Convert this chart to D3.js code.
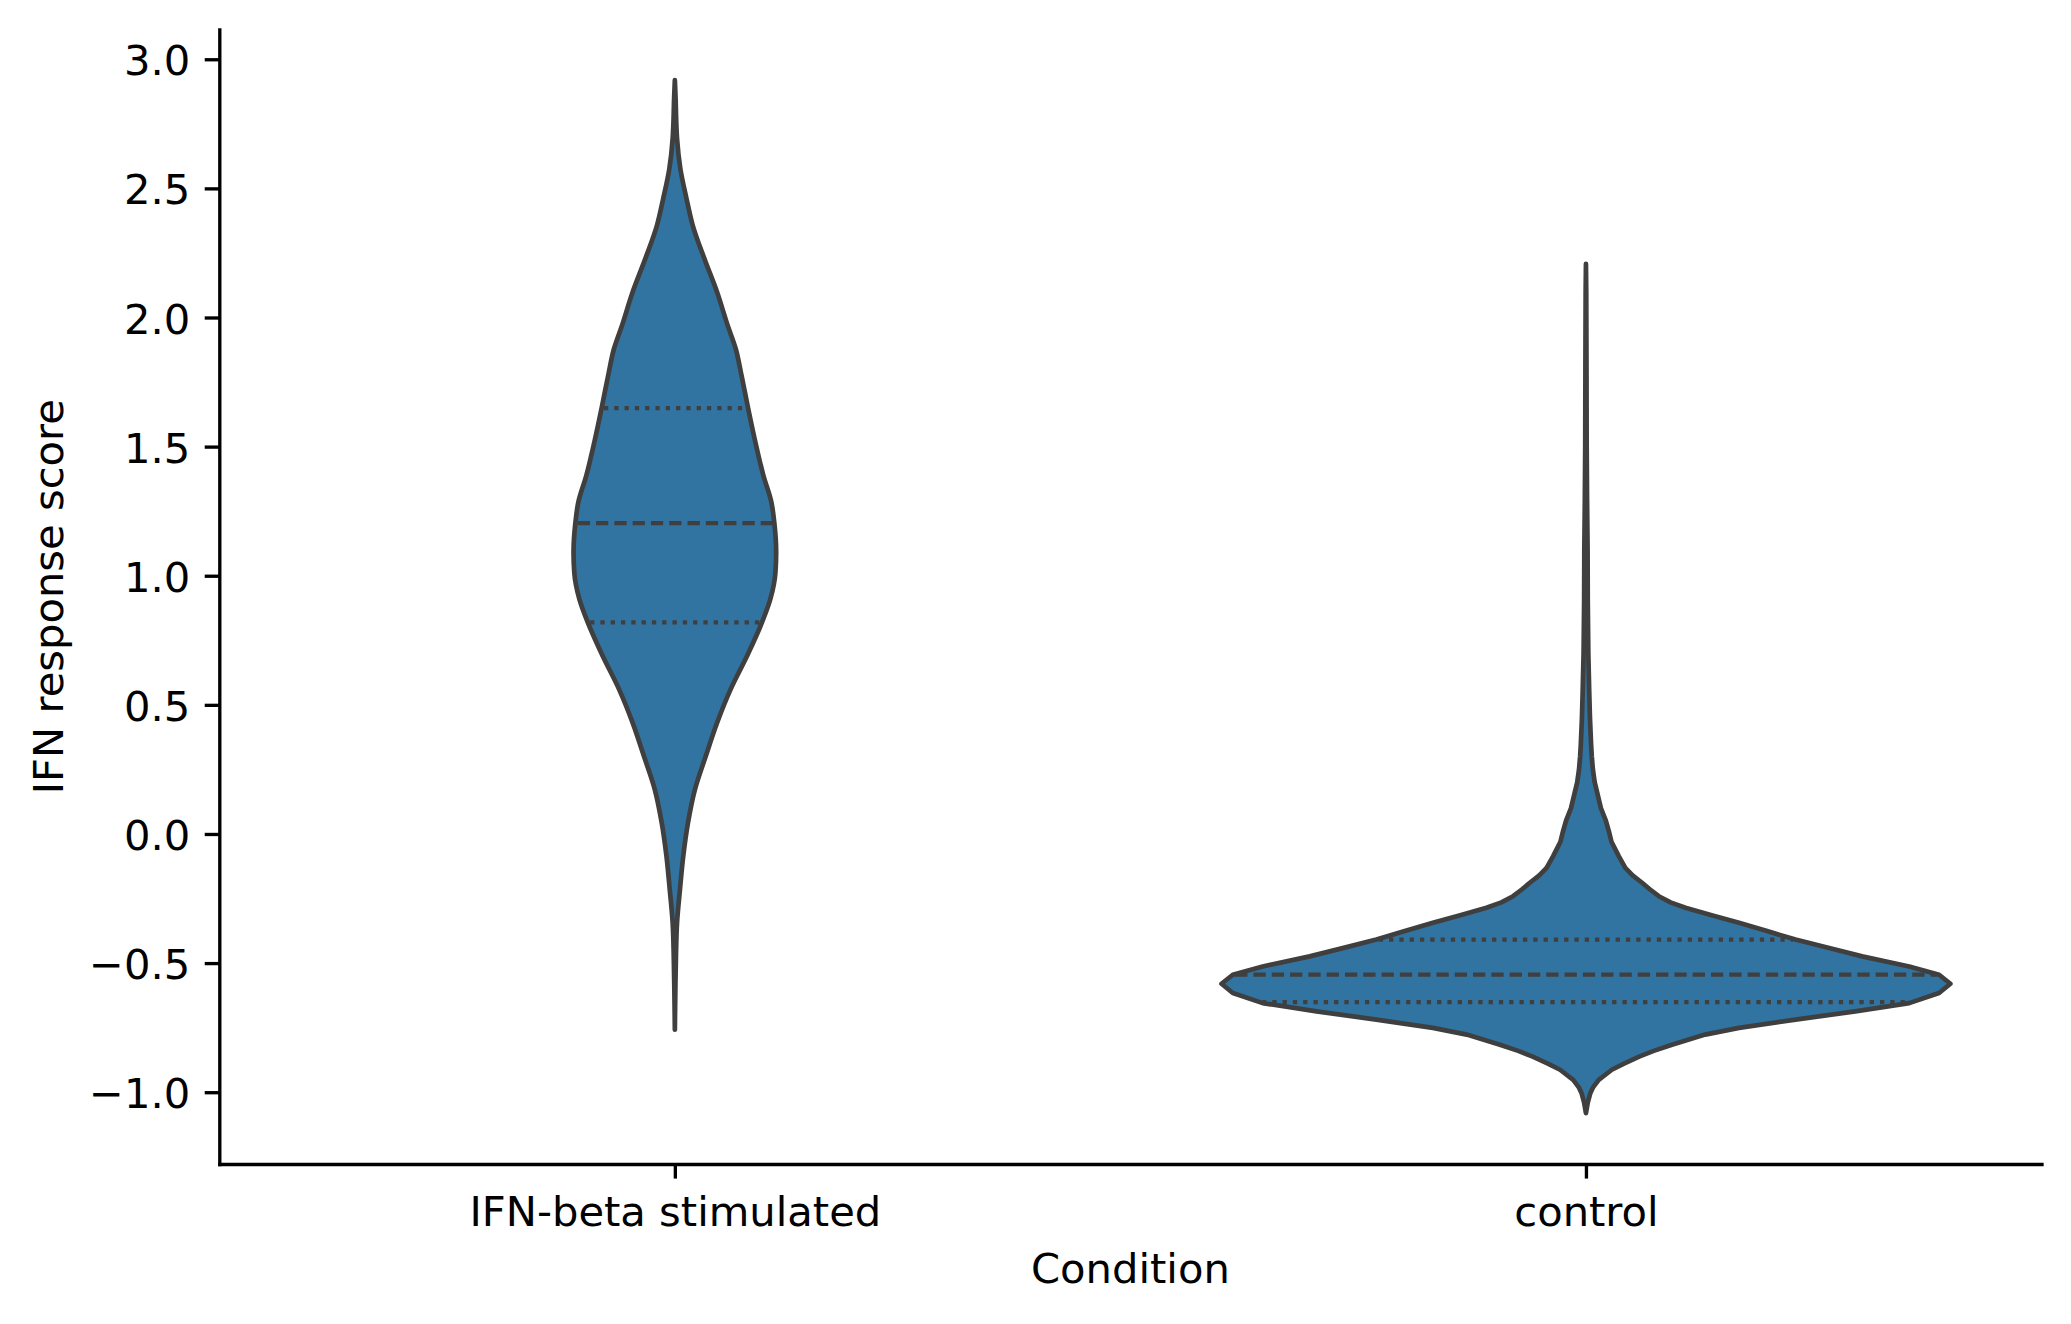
<!DOCTYPE html>
<html>
<head>
<meta charset="utf-8">
<script src="https://cdn.jsdelivr.net/npm/d3@7"></script>
<style>
  html, body { margin: 0; padding: 0; background: #ffffff; }
  svg { display: block; }
  text { font-family: "DejaVu Sans", sans-serif; fill: #000; }
</style>
</head>
<body>
<svg id="chart" width="2071" height="1324"></svg>
<script>
// ---------------- data ----------------
const categories = ["IFN-beta stimulated", "control"];
const yTicks = [-1.0, -0.5, 0.0, 0.5, 1.0, 1.5, 2.0, 2.5, 3.0];
const xAxisLabel = "Condition";
const yAxisLabel = "IFN response score";

// KDE profile: score value and relative density (1 = widest violin)
const stimValues  = [2.919, 2.85, 2.75, 2.693, 2.577, 2.46, 2.357, 2.228, 2.098, 1.969, 1.879, 1.775, 1.649, 1.517, 1.388, 1.284, 1.204, 1.092, 1.013, 0.909, 0.819, 0.689, 0.56, 0.431, 0.302, 0.172, 0.043, -0.086, -0.215, -0.344, -0.474, -0.6, -0.758];
const stimDensity = [0, 0.002, 0.004, 0.006, 0.015, 0.032, 0.049, 0.081, 0.116, 0.145, 0.167, 0.183, 0.201, 0.221, 0.243, 0.265, 0.273, 0.278, 0.276, 0.262, 0.239, 0.198, 0.153, 0.116, 0.085, 0.055, 0.036, 0.023, 0.014, 0.006, 0.003, 0.0014, 0];
const stimQuartiles = [0.819, 1.204, 1.649];

const ctrlValues  = [2.208, 2.1, 1.8, 1.5, 1.3, 1.1, 0.9, 0.7, 0.55, 0.45, 0.35, 0.3, 0.25, 0.2, 0.159, 0.1, 0.054, 0.01, -0.03, -0.086, -0.131, -0.16, -0.189, -0.215, -0.241, -0.265, -0.286, -0.315, -0.344, -0.376, -0.409, -0.44, -0.474, -0.513, -0.545, -0.58, -0.616, -0.655, -0.687, -0.719, -0.751, -0.777, -0.816, -0.84, -0.862, -0.89, -0.913, -0.952, -0.98, -1.004, -1.04, -1.081];
const ctrlDensity = [0, 0.0008, 0.0015, 0.002, 0.003, 0.0045, 0.005, 0.0065, 0.009, 0.011, 0.014, 0.016, 0.019, 0.024, 0.031, 0.041, 0.054, 0.063, 0.07, 0.09, 0.108, 0.128, 0.154, 0.176, 0.2, 0.232, 0.273, 0.345, 0.42, 0.497, 0.575, 0.662, 0.758, 0.887, 0.969, 1.0, 0.969, 0.887, 0.739, 0.575, 0.42, 0.327, 0.236, 0.186, 0.146, 0.103, 0.071, 0.035, 0.02, 0.012, 0.005, 0];
const ctrlQuartiles = [-0.651, -0.545, -0.409];

// ---------------- layout ----------------
const PT = 300 / 72;                 // px per point
const svg = d3.select("#chart");
const plotLeft = 219.3, plotRight = 2041.5, plotTop = 29.3, plotBottom = 1164;
const fontPx = 10 * PT;

const x = d3.scalePoint().domain(categories).range([plotLeft, plotRight]).padding(0.5);
const y = d3.scaleLinear().domain([-1.278, 3.116]).range([plotBottom, plotTop]);
const step = x.step();
const w = d3.scaleLinear().domain([0, 1]).range([0, 0.4 * step]);

const fillColor = "#3274a1";
const lineColor = "#3f3f3f";
const outlineW = 4.7;
const innerW = 4.2;

const violins = [
  { cat: categories[0], values: stimValues, density: stimDensity, quart: stimQuartiles, curve: d3.curveMonotoneY },
  { cat: categories[1], values: ctrlValues, density: ctrlDensity, quart: ctrlQuartiles, curve: d3.curveLinear }
];

const g = svg.append("g");

violins.forEach(vd => {
  const cx = x(vd.cat);
  const pts = vd.values.map((v, i) => ({ v: v, d: vd.density[i] }));
  const area = d3.area()
    .y(p => y(p.v))
    .x0(p => cx - w(p.d))
    .x1(p => cx + w(p.d))
    .curve(vd.curve);
  g.append("path")
    .attr("d", area(pts))
    .attr("fill", fillColor)
    .attr("stroke", lineColor)
    .attr("stroke-width", outlineW)
    .attr("stroke-linejoin", "round");

  const sorted = pts.slice().sort((a, b) => a.v - b.v);
  const dens = d3.scaleLinear().domain(sorted.map(p => p.v)).range(sorted.map(p => p.d));
  vd.quart.forEach((q, i) => {
    const hw = w(dens(q)) - outlineW / 2;
    const isMedian = i === 1;
    g.append("line")
      .attr("x1", cx - hw).attr("x2", cx + hw)
      .attr("y1", y(q)).attr("y2", y(q))
      .attr("stroke", lineColor)
      .attr("stroke-width", innerW)
      .attr("stroke-linecap", "butt")
      .attr("stroke-dasharray", isMedian ? "12.3,6" : "4.3,6");
  });
});

// ---------------- axes ----------------
const tickLen = 3.5 * PT, tickPad = 3.5 * PT, spineW = 0.8 * PT;

const yAxis = svg.append("g")
  .attr("transform", `translate(${plotLeft},0)`)
  .call(d3.axisLeft(y).tickValues(yTicks).tickSize(tickLen).tickSizeOuter(0).tickPadding(tickPad)
    .tickFormat(d3.format(".1f")));
yAxis.select(".domain").attr("stroke", "#000").attr("stroke-width", spineW).attr("stroke-linecap", "square");
yAxis.selectAll(".tick line").attr("stroke", "#000").attr("stroke-width", spineW);
yAxis.selectAll(".tick text")
  .attr("font-family", "DejaVu Sans").attr("font-size", fontPx).attr("fill", "#000")
  .attr("dy", "0.375em");

const xAxis = svg.append("g")
  .attr("transform", `translate(0,${plotBottom})`)
  .call(d3.axisBottom(x).tickSize(tickLen).tickSizeOuter(0).tickPadding(tickPad));
xAxis.select(".domain").attr("stroke", "#000").attr("stroke-width", spineW).attr("stroke-linecap", "square");
xAxis.selectAll(".tick line").attr("stroke", "#000").attr("stroke-width", spineW);
xAxis.selectAll(".tick text")
  .attr("font-family", "DejaVu Sans").attr("font-size", fontPx).attr("fill", "#000")
  .attr("y", 1226 - plotBottom).attr("dy", 0);

svg.append("text")
  .attr("x", (plotLeft + plotRight) / 2).attr("y", 1283)
  .attr("text-anchor", "middle")
  .attr("font-size", fontPx)
  .text(xAxisLabel);

svg.append("text")
  .attr("transform", `translate(63,${(plotTop + plotBottom) / 2}) rotate(-90)`)
  .attr("text-anchor", "middle")
  .attr("font-size", fontPx)
  .text(yAxisLabel);
</script>
</body>
</html>
